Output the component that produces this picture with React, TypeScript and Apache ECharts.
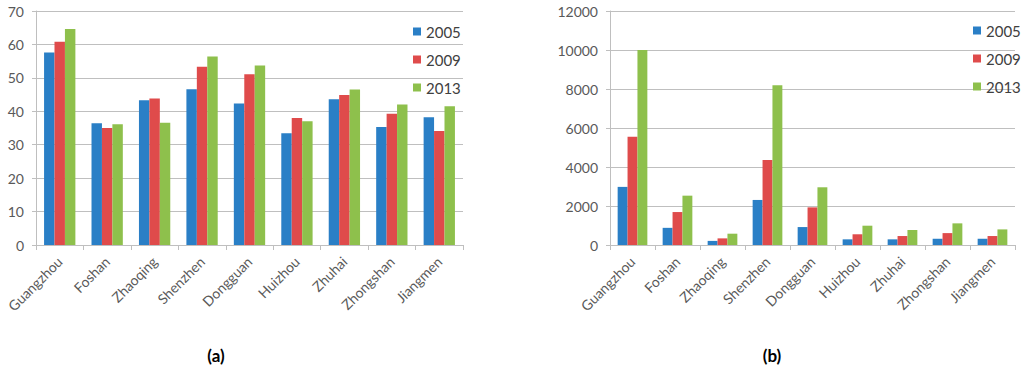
import React, { useEffect, useRef } from "react";
import * as echarts from "echarts";

const cities = ["Guangzhou", "Foshan", "Zhaoqing", "Shenzhen", "Dongguan", "Huizhou", "Zhuhai", "Zhongshan", "Jiangmen"];
const years = ["2005", "2009", "2013"];

// Panel (a)
const a2005 = [57.6, 36.4, 43.3, 46.6, 42.3, 33.4, 43.6, 35.3, 38.2];
const a2009 = [60.8, 35.0, 43.8, 53.3, 51.1, 38.0, 44.9, 39.3, 34.1];
const a2013 = [64.6, 36.1, 36.6, 56.4, 53.7, 37.0, 46.5, 42.0, 41.5];

// Panel (b)
const b2005 = [2980, 880, 210, 2310, 920, 290, 290, 320, 320];
const b2009 = [5550, 1690, 340, 4360, 1930, 550, 460, 610, 460];
const b2013 = [10000, 2530, 580, 8190, 2960, 990, 770, 1110, 800];

const colors = ["#2A7FC6", "#DF4B4B", "#8EC04C"];
const FONT = "Lato, 'Open Sans', sans-serif";

export default function App() {
  const ref = useRef<HTMLDivElement>(null);
  useEffect(() => {
    if (!ref.current) return;
    const chart = echarts.init(ref.current, null, { renderer: "svg" });
    const axisLabel = { color: "#595959", fontSize: 14, fontFamily: FONT };
    const xAxis = (gridIndex: number) => ({
      type: "category",
      gridIndex,
      data: cities,
      axisLine: { lineStyle: { color: "#BFBFBF" } },
      axisTick: { show: true, length: 5, lineStyle: { color: "#BFBFBF" } },
      axisLabel: { ...axisLabel, rotate: 45, margin: 14, interval: 0 },
    });
    const yAxis = (gridIndex: number, max: number, interval: number) => ({
      type: "value",
      gridIndex,
      min: 0,
      max,
      interval,
      axisLine: { show: true, lineStyle: { color: "#BFBFBF" } },
      axisTick: { show: true, length: 4, lineStyle: { color: "#BFBFBF" } },
      splitLine: { lineStyle: { color: "#BFBFBF" } },
      axisLabel: { ...axisLabel, margin: 12, formatter: (v: number) => String(v) },
    });
    const mk = (name: string, data: number[], idx: number, color: string) => ({
      type: "bar",
      name,
      data,
      xAxisIndex: idx,
      yAxisIndex: idx,
      barGap: "0%",
      barCategoryGap: "34%",
      itemStyle: { color },
    });
    const legend = (left: number, top: number) => ({
      left,
      top,
      orient: "vertical",
      itemWidth: 8,
      itemHeight: 8,
      itemGap: 13,
      icon: "rect",
      data: years,
      textStyle: { color: "#404040", fontSize: 15, fontFamily: FONT },
    });
    chart.setOption({
      animation: false,
      color: colors,
      grid: [
        { left: 36, top: 11, width: 427, height: 234 },
        { left: 610, top: 11, width: 405, height: 234 },
      ],
      xAxis: [xAxis(0), xAxis(1)],
      yAxis: [yAxis(0, 70, 10), yAxis(1, 12000, 2000)],
      legend: [legend(408, 19), legend(968, 18)],
      series: [
        mk("2005", a2005, 0, colors[0]),
        mk("2009", a2009, 0, colors[1]),
        mk("2013", a2013, 0, colors[2]),
        mk("2005", b2005, 1, colors[0]),
        mk("2009", b2009, 1, colors[1]),
        mk("2013", b2013, 1, colors[2]),
      ],
      graphic: [
        { type: "text", x: 216, y: 355, style: { text: "(a)", fontSize: 17, fontWeight: "bold", fontFamily: FONT, fill: "#000", textAlign: "center", textVerticalAlign: "middle" } },
        { type: "text", x: 772, y: 355, style: { text: "(b)", fontSize: 17, fontWeight: "bold", fontFamily: FONT, fill: "#000", textAlign: "center", textVerticalAlign: "middle" } },
      ],
    });
    return () => chart.dispose();
  }, []);
  return <div ref={ref} style={{ position: "absolute", left: 0, top: 0, width: 1024, height: 370 }} />;
}
